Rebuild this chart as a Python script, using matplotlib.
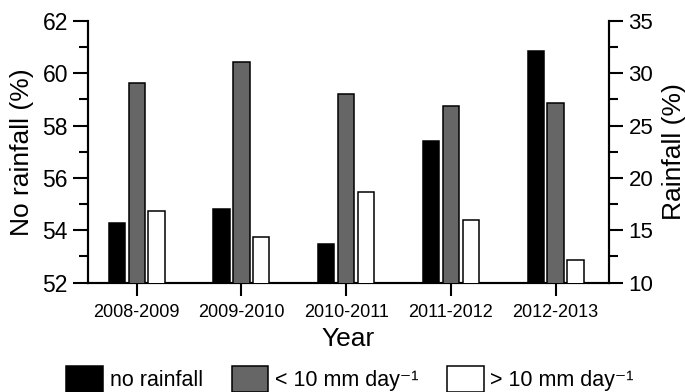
import matplotlib
matplotlib.use("Agg")
import matplotlib.pyplot as plt
from matplotlib.ticker import MultipleLocator
from matplotlib.patches import Patch
import numpy as np

plt.rcParams['font.family'] = ['Liberation Sans', 'DejaVu Sans']
plt.rcParams['mathtext.fontset'] = 'custom'
plt.rcParams['mathtext.rm'] = 'Liberation Sans'
plt.rcParams['mathtext.it'] = 'Liberation Sans'

years = ["2008-2009", "2009-2010", "2010-2011", "2011-2012", "2012-2013"]
no_rainfall = [54.29, 54.82, 53.47, 57.42, 60.85]          # left axis (%)
below_10mm = [29.08, 31.03, 27.98, 26.86, 27.18]            # right axis (%)
above_10mm = [16.81, 14.33, 18.68, 15.95, 12.17]            # right axis (%)
legend_labels = ["no rainfall", "< 10 mm day\u207b\u00b9", "> 10 mm day\u207b\u00b9"]

fig = plt.figure(figsize=(6.85, 3.92), dpi=100)
ax = fig.add_axes([0.1285, 0.279, 0.7605, 0.668])
ax2 = ax.twinx()

x = np.arange(len(years))
w = 0.155
off = 0.19
lw = 1.1
ax.bar(x - off, no_rainfall, w, color='black', edgecolor='black', linewidth=lw, zorder=3)
ax2.bar(x, below_10mm, w, color='#666666', edgecolor='black', linewidth=lw, zorder=3)
ax2.bar(x + off, above_10mm, w, color='white', edgecolor='black', linewidth=lw, zorder=3)

ax.set_xlim(-0.465, 4.51)
ax.set_ylim(52, 62)
ax2.set_ylim(10, 35)

for a in (ax, ax2):
    a.spines['top'].set_visible(False)
    for s in ('left', 'right', 'bottom'):
        a.spines[s].set_linewidth(1.5)

ax.set_xticks(x)
ax.set_xticklabels(years, fontsize=13)
ax.yaxis.set_major_locator(MultipleLocator(2))
ax.yaxis.set_minor_locator(MultipleLocator(1))
ax2.yaxis.set_major_locator(MultipleLocator(5))
ax2.yaxis.set_minor_locator(MultipleLocator(2.5))

ax.tick_params(axis='y', which='major', direction='out', length=10.5, width=1.5, labelsize=16.5, pad=4)
ax.tick_params(axis='y', which='minor', direction='out', length=6.5, width=1.5)
ax2.tick_params(axis='y', which='major', direction='out', length=10, width=1.5, labelsize=16, pad=4)
ax2.tick_params(axis='y', which='minor', direction='out', length=6.5, width=1.5)
ax.tick_params(axis='x', which='major', direction='out', length=9.5, width=1.5, pad=6)
ax.tick_params(axis='x', which='minor', bottom=False)

ax.set_ylabel("No rainfall (%)", fontsize=19, labelpad=6)
ax2.set_ylabel("Rainfall (%)", fontsize=19, labelpad=6)
ax.set_xlabel("Year", fontsize=19, labelpad=4)

handles = [Patch(facecolor='black', edgecolor='black', linewidth=lw),
           Patch(facecolor='#666666', edgecolor='black', linewidth=lw),
           Patch(facecolor='white', edgecolor='black', linewidth=lw)]
fig.legend(handles, legend_labels, ncol=3, loc='upper left',
           bbox_to_anchor=(0.097, 0.066), frameon=False, fontsize=15.5,
           handlelength=1.7, handleheight=1.45, handletextpad=0.3,
           columnspacing=1.35, borderaxespad=0, borderpad=0)

fig.savefig("out.png", dpi=100)
